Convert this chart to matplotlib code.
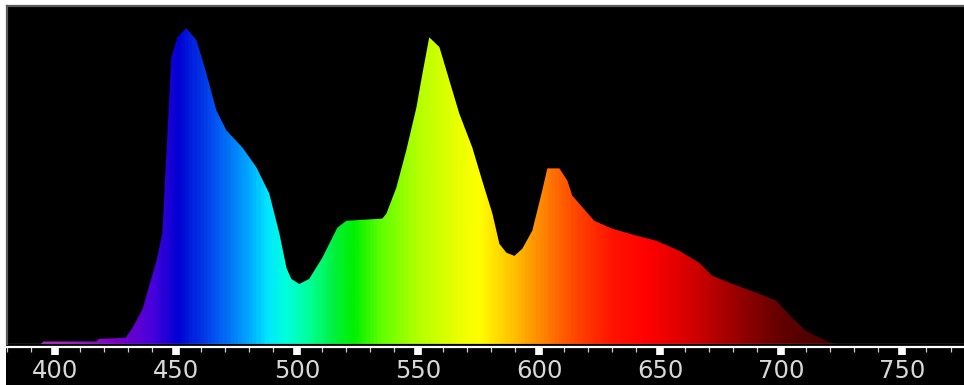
import numpy as np
import matplotlib
matplotlib.use("Agg")
import matplotlib.pyplot as plt
from matplotlib.colors import LinearSegmentedColormap
from matplotlib.patches import Rectangle
from matplotlib.ticker import MultipleLocator

# spectrum (wavelength in nm, relative intensity)
wavelength = [380, 394, 395, 417, 418, 429, 431.8, 436, 439, 442, 444.2, 446.3,
              447.9, 450.4, 454.1, 458.3, 462.4, 466.5, 470.7, 477.3, 483.1,
              488.4, 492.6, 495.5, 497.5, 500.8, 504.9, 510.3, 516.5, 520.2,
              535.1, 536.8, 540.9, 545, 549.2, 551.7, 554.5, 558.7, 562.8,
              566.9, 572.3, 576.4, 580.6, 583.5, 586.4, 589.7, 593, 597.1,
              601.2, 603.3, 608.3, 611.6, 613.6, 622.7, 630.2, 640.1, 648.3,
              657.9, 666.1, 671.5, 679.8, 690.9, 697.9, 704.5, 710.3, 718.6,
              721.1, 723, 780]
intensity = [0, 0, 0.008, 0.008, 0.016, 0.02, 0.05, 0.11, 0.19, 0.27, 0.35, 0.667,
             0.908, 0.971, 1.0, 0.962, 0.857, 0.74, 0.676, 0.622, 0.559,
             0.476, 0.349, 0.241, 0.206, 0.19, 0.206, 0.273, 0.368, 0.39,
             0.397, 0.413, 0.495, 0.613, 0.749, 0.857, 0.971, 0.94, 0.835,
             0.73, 0.622, 0.517, 0.413, 0.317, 0.289, 0.279, 0.302, 0.359,
             0.486, 0.556, 0.556, 0.517, 0.47, 0.39, 0.365, 0.343, 0.327,
             0.295, 0.257, 0.216, 0.19, 0.159, 0.137, 0.083, 0.041, 0.01,
             0.003, 0, 0]

tick_values = [400, 450, 500, 550, 600, 650, 700, 750]

# colour stops of the spectrum fill, by wavelength
color_nm = [380, 400, 425, 440, 450, 465, 480, 487, 495, 505, 515, 523, 535,
            550, 565, 575, 590, 600, 615, 630, 645, 660, 680, 700, 720, 780]
color_rgb = [(150, 40, 170), (170, 40, 200), (120, 0, 200), (70, 0, 220),
             (0, 0, 210), (0, 80, 240), (0, 170, 255), (0, 230, 255),
             (0, 255, 220), (0, 255, 150), (0, 240, 60), (0, 240, 0),
             (100, 255, 0), (180, 255, 0), (230, 255, 0), (255, 255, 0),
             (255, 190, 0), (255, 140, 0), (255, 70, 0), (255, 20, 0),
             (255, 0, 0), (220, 0, 0), (160, 0, 0), (100, 0, 0), (70, 0, 0),
             (50, 0, 0)]

xmin, xmax = 380, 775.5
ymax = 1.07

cmap = LinearSegmentedColormap.from_list(
    "spectrum",
    [((n - color_nm[0]) / (color_nm[-1] - color_nm[0]), tuple(c / 255 for c in rgb))
     for n, rgb in zip(color_nm, color_rgb)])

W, H = 964, 385
fig = plt.figure(figsize=(W / 100, H / 100), dpi=100, facecolor="white")
fig.patches.append(Rectangle((6 / W, 0), 1, 1 - 5 / H, transform=fig.transFigure,
                             facecolor="black", edgecolor="none", zorder=-5))

ax = fig.add_axes([7 / W, 41 / H, (W - 7) / W, (H - 6 - 41) / H])
ax.set_facecolor("black")

# gradient clipped by the spectrum outline
grad = np.linspace(color_nm[0], color_nm[-1], 800)
img = ax.imshow(grad[np.newaxis, :], cmap=cmap, aspect="auto",
                extent=[color_nm[0], color_nm[-1], 0, ymax], origin="lower",
                vmin=color_nm[0], vmax=color_nm[-1], interpolation="bilinear")
poly = ax.fill_between(wavelength, 0, intensity, facecolor="none", edgecolor="none")
img.set_clip_path(poly.get_paths()[0], transform=ax.transData)

ax.set_xlim(xmin, xmax)
ax.set_ylim(0, ymax)
ax.set_yticks([])

for side in ["top", "left"]:
    ax.spines[side].set_color("#5a5a5a")
    ax.spines[side].set_linewidth(1.6)
ax.spines["right"].set_visible(False)
ax.axhline(0, color="#6a6a6a", lw=1.0, zorder=5)

ax.spines["bottom"].set_position(("outward", 2.2))
ax.spines["bottom"].set_color("white")
ax.spines["bottom"].set_linewidth(1.6)

ax.set_xticks(tick_values)
ax.xaxis.set_minor_locator(MultipleLocator(10))
ax.tick_params(axis="x", which="major", direction="out", length=6, width=5.5,
               color="white", labelcolor="#d8d8d8", labelsize=17.5, pad=2.5)
ax.tick_params(axis="x", which="minor", direction="out", length=3.5, width=0.9,
               color="#cfcfcf")

fig.savefig("out.png", dpi=100, facecolor=fig.get_facecolor())
